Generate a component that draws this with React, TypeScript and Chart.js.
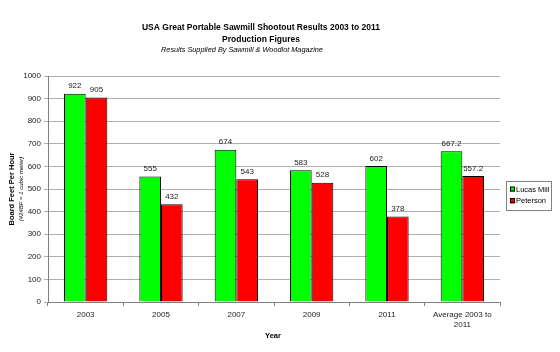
import React, { useEffect, useRef } from "react";
import { Chart, registerables } from "chart.js";

Chart.register(...registerables);

const categories: (string | string[])[] = ["2003", "2005", "2007", "2009", "2011", ["Average 2003 to", "2011"]];
const lucasMill = [922, 555, 674, 583, 602, 667.2];
const peterson = [905, 432, 543, 528, 378, 557.2];
const seriesNames = ["Lucas Mill", "Peterson"];
const seriesColors = ["#00FF00", "#FF0000"];
const titleLines = ["USA Great Portable Sawmill Shootout Results 2003 to 2011", "Production Figures"];
const subtitleText = "Results Supplied By Sawmill & Woodlot Magazine";
const yTitle = "Board Feet Per Hour";
const ySubTitle = "(424BF = 1 cubic meter)";
const xTitle = "Year";

const FONT = "'Liberation Sans', Arial, sans-serif";

const decorPlugin = {
  id: "decor",
  afterDraw(chart: any) {
    const ctx = chart.ctx;
    ctx.save();
    ctx.fillStyle = "#000";
    ctx.textAlign = "center";
    ctx.textBaseline = "middle";
    // titles
    ctx.font = `bold 8.5px ${FONT}`;
    ctx.fillText(titleLines[0], 261, 28);
    ctx.fillText(titleLines[1], 261, 39.5);
    ctx.font = `italic 7.3px ${FONT}`;
    ctx.fillText(subtitleText, 242, 49.5);
    // y titles
    ctx.save();
    ctx.translate(12, 189);
    ctx.rotate(-Math.PI / 2);
    ctx.font = `bold 7.5px ${FONT}`;
    ctx.fillText(yTitle, 0, 0);
    ctx.restore();
    ctx.save();
    ctx.translate(21, 189);
    ctx.rotate(-Math.PI / 2);
    ctx.font = `italic 6px ${FONT}`;
    ctx.fillText(ySubTitle, 0, 0);
    ctx.restore();
    // x title
    ctx.font = `bold 7.5px ${FONT}`;
    ctx.fillText(xTitle, 273, 336);
    // data labels
    ctx.font = `8px ${FONT}`;
    ctx.fillStyle = "#222";
    chart.data.datasets.forEach((ds: any, di: number) => {
      const meta = chart.getDatasetMeta(di);
      meta.data.forEach((bar: any, i: number) => {
        ctx.fillText(String(ds.data[i]), bar.x, bar.y - 7.5);
      });
    });
    // legend
    const lx = 506, ly = 181, lw = 45, lh = 29;
    ctx.fillStyle = "#fff";
    ctx.fillRect(lx, ly, lw, lh);
    ctx.strokeStyle = "#808080";
    ctx.lineWidth = 1;
    ctx.strokeRect(lx + 0.5, ly + 0.5, lw, lh);
    ctx.textAlign = "left";
    ctx.font = `7.5px ${FONT}`;
    seriesNames.forEach((name, i) => {
      const y = ly + 8.5 + i * 11.5;
      ctx.fillStyle = seriesColors[i];
      ctx.fillRect(lx + 4, y - 2.5, 5, 5);
      ctx.strokeStyle = "#000";
      ctx.strokeRect(lx + 4.5, y - 2.5, 4, 4);
      ctx.fillStyle = "#000";
      ctx.fillText(name, lx + 10, y);
    });
    ctx.restore();
  },
};

export default function App() {
  const ref = useRef<HTMLCanvasElement>(null);
  useEffect(() => {
    document.body.style.margin = "0";
    const chart = new Chart(ref.current!, {
      type: "bar",
      data: {
        labels: categories as any,
        datasets: [
          { label: seriesNames[0], data: lucasMill, backgroundColor: seriesColors[0], borderColor: "#000", borderWidth: 1 },
          { label: seriesNames[1], data: peterson, backgroundColor: seriesColors[1], borderColor: "#000", borderWidth: 1 },
        ],
      },
      options: {
        responsive: false,
        animation: false,
        devicePixelRatio: 1,
        layout: { padding: { top: 76, right: 60, bottom: 0, left: 0 } },
        plugins: { legend: { display: false }, title: { display: false }, tooltip: { enabled: false } },
        datasets: { bar: { categoryPercentage: 0.575, barPercentage: 1 } },
        scales: {
          x: {
            grid: { drawOnChartArea: false, tickLength: 4, color: "#808080", offset: true },
            border: { color: "#808080" },
            ticks: { color: "#222", font: { family: FONT, size: 8 }, maxRotation: 0, autoSkip: false, padding: 4 },
            afterFit(scale: any) { scale.height = 50; },
          },
          y: {
            min: 0,
            max: 1000,
            grid: { color: "#b0b0b0", tickLength: 4 },
            border: { color: "#808080" },
            ticks: { stepSize: 100, color: "#222", font: { family: FONT, size: 8 }, padding: 3, callback: (v: any) => String(v) },
            afterFit(scale: any) { scale.width = 48; },
          },
        },
      },
      plugins: [decorPlugin],
    });
    return () => chart.destroy();
  }, []);
  return <canvas ref={ref} width={560} height={352} style={{ display: "block" }} />;
}
